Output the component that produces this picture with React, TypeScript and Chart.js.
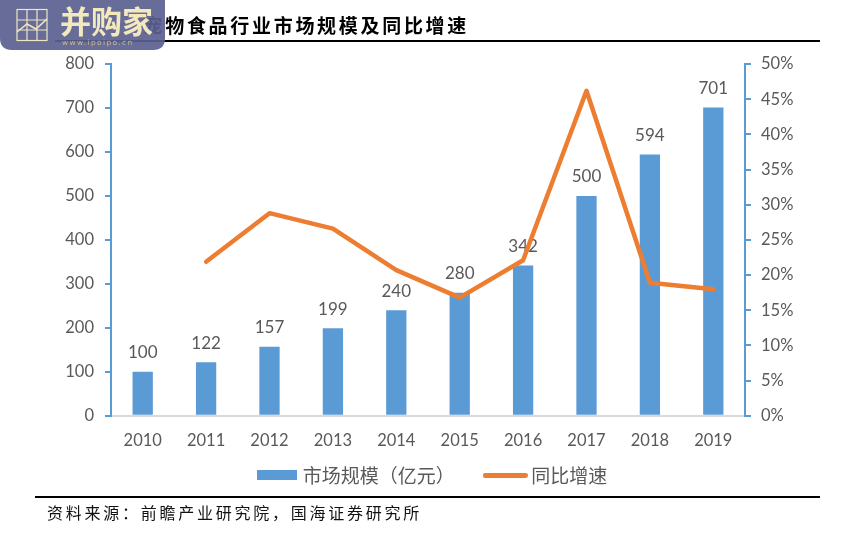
import React, { useEffect, useRef } from "react";
import { Chart, registerables } from "chart.js";

Chart.register(...registerables);

const years = ["2010", "2011", "2012", "2013", "2014", "2015", "2016", "2017", "2018", "2019"];
const marketSize = [100, 122, 157, 199, 240, 280, 342, 500, 594, 701];
const growth = [null, 21.9, 28.8, 26.6, 20.7, 16.8, 22.1, 46.2, 18.9, 18.0];
const barName = "市场规模（亿元）";
const lineName = "同比增速";
const titleText = "宠物食品行业市场规模及同比增速";
const sourceText = "资料来源：前瞻产业研究院，国海证券研究所";

const GREY = "#595959";
const BLUE = "#5b9bd5";
const ORANGE = "#ed7d31";
const LATIN = "Lato, 'Noto Sans CJK SC', sans-serif";
const CJK = "'Noto Sans CJK SC', sans-serif";

function swatch(w: number, h: number, color: string, round: boolean) {
  const c = document.createElement("canvas");
  c.width = w;
  c.height = h;
  const x = c.getContext("2d")!;
  x.fillStyle = color;
  if (round) {
    x.beginPath();
    x.roundRect(0, 0, w, h, h / 2);
    x.fill();
  } else {
    x.fillRect(0, 0, w, h);
  }
  return c;
}

const barLabels = {
  id: "barLabels",
  beforeDatasetsDraw(chart: any) {
    const meta = chart.getDatasetMeta(1);
    const { ctx } = chart;
    ctx.save();
    ctx.font = `17px ${LATIN}`;
    ctx.fillStyle = GREY;
    ctx.textAlign = "center";
    ctx.textBaseline = "middle";
    meta.data.forEach((el: any, i: number) => {
      ctx.fillText(String(marketSize[i]), el.x, el.y - 19);
    });
    ctx.restore();
  },
};

export default function App() {
  const ref = useRef<HTMLCanvasElement>(null);
  useEffect(() => {
    const chart = new Chart(ref.current!, {
      type: "bar",
      plugins: [barLabels],
      data: {
        labels: years,
        datasets: [
          {
            type: "line",
            label: lineName,
            data: growth as any,
            yAxisID: "y2",
            borderColor: ORANGE,
            backgroundColor: ORANGE,
            borderWidth: 4.5,
            pointRadius: 0,
            tension: 0,
            borderCapStyle: "round",
            borderJoinStyle: "round",
            order: 1,
            pointStyle: swatch(45, 5, ORANGE, true) as any,
          },
          {
            type: "bar",
            label: barName,
            data: marketSize,
            yAxisID: "y",
            backgroundColor: BLUE,
            categoryPercentage: 1,
            barPercentage: 0.32,
            order: 2,
            pointStyle: swatch(40, 10, BLUE, false) as any,
          },
        ] as any,
      },
      options: {
        responsive: false,
        animation: false,
        layout: { padding: { left: 32, right: 10.5, top: 64, bottom: 44.2 } },
        plugins: {
          tooltip: { enabled: false },
          legend: {
            position: "bottom",
            reverse: true,
            labels: {
              usePointStyle: true,
              pointStyleWidth: 33,
              padding: 34,
              color: GREY,
              font: { family: CJK, size: 19 },
              boxHeight: 19,
            },
          },
        },
        scales: {
          x: {
            grid: { display: false, drawTicks: false },
            border: { color: "#d9d9d9", width: 2 },
            ticks: { color: GREY, font: { family: LATIN, size: 16.5 }, padding: 15, maxRotation: 0 },
            afterFit: (s: any) => {
              s.height = 16;
              // the legend's wide item gap overlaps this box, so the labels must not be clipped to it
              s._computeLabelArea = () => undefined;
            },
          },
          y: {
            position: "left",
            min: 0,
            max: 800,
            grid: { display: true, drawOnChartArea: false, drawTicks: true, tickLength: 6, tickColor: BLUE, lineWidth: 2 },
            border: { color: BLUE, width: 2 },
            ticks: { stepSize: 100, color: GREY, font: { family: LATIN, size: 16.5 }, padding: 11 },
            afterFit: (s: any) => { s.width = 79; },
          },
          y2: {
            position: "right",
            min: 0,
            max: 50,
            grid: { display: true, drawOnChartArea: false, drawTicks: true, tickLength: 6, tickColor: BLUE, lineWidth: 2 },
            border: { color: BLUE, width: 2 },
            ticks: {
              stepSize: 5,
              color: GREY,
              font: { family: LATIN, size: 16.5 },
              padding: 10,
              callback: (v: any) => `${v}%`,
            },
            afterFit: (s: any) => { s.width = 90.5; },
          },
        },
      } as any,
    });
    return () => chart.destroy();
  }, []);

  return (
    <div style={{ position: "absolute", left: 0, top: 0, width: 846, height: 539, background: "#fff", overflow: "hidden" }}>
      <canvas ref={ref} width={846} height={539} style={{ position: "absolute", left: 0, top: 0, display: "block" }} />
      <div style={{ position: "absolute", left: 143.5, top: 12, fontFamily: CJK, fontWeight: 700, fontSize: 19, letterSpacing: 2.7, color: "#000", lineHeight: "26px", whiteSpace: "nowrap" }}>
        {titleText}
      </div>
      <div style={{ position: "absolute", left: 55, top: 40, width: 765, height: 2, background: "#000" }} />
      <div style={{ position: "absolute", left: 35, top: 496, width: 785, height: 2, background: "#000" }} />
      <div style={{ position: "absolute", left: 47, top: 500, fontFamily: CJK, fontSize: 16, letterSpacing: 2.75, color: "#111", lineHeight: "24px", whiteSpace: "nowrap" }}>
        {sourceText}
      </div>
      <svg width={166} height={51} style={{ position: "absolute", left: 0, top: 0 }}>
        <path d="M0 0H165V38Q165 50 153 50H12Q0 50 0 38Z" fill="#5a608f" fillOpacity={0.92} />
        <g stroke="#efe6c0" strokeWidth={1.2} fill="none">
          <rect x={17} y={9.5} width={30} height={31} />
          <path d="M17 20H47M17 30H47M27 9.5V40.5M37 9.5V40.5" />
          <path d="M17 32L27 24L36 29L47 19" strokeWidth={1.6} />
        </g>
        <text x={60} y={33} fill="#f3e9bd" fontFamily={CJK} fontWeight={700} fontSize={31}>并购家</text>
        <text x={62} y={45} fill="#c9b98a" fontFamily="'DejaVu Sans', sans-serif" fontSize={7.5} letterSpacing={1.35}>www.ipoipo.cn</text>
      </svg>
    </div>
  );
}
